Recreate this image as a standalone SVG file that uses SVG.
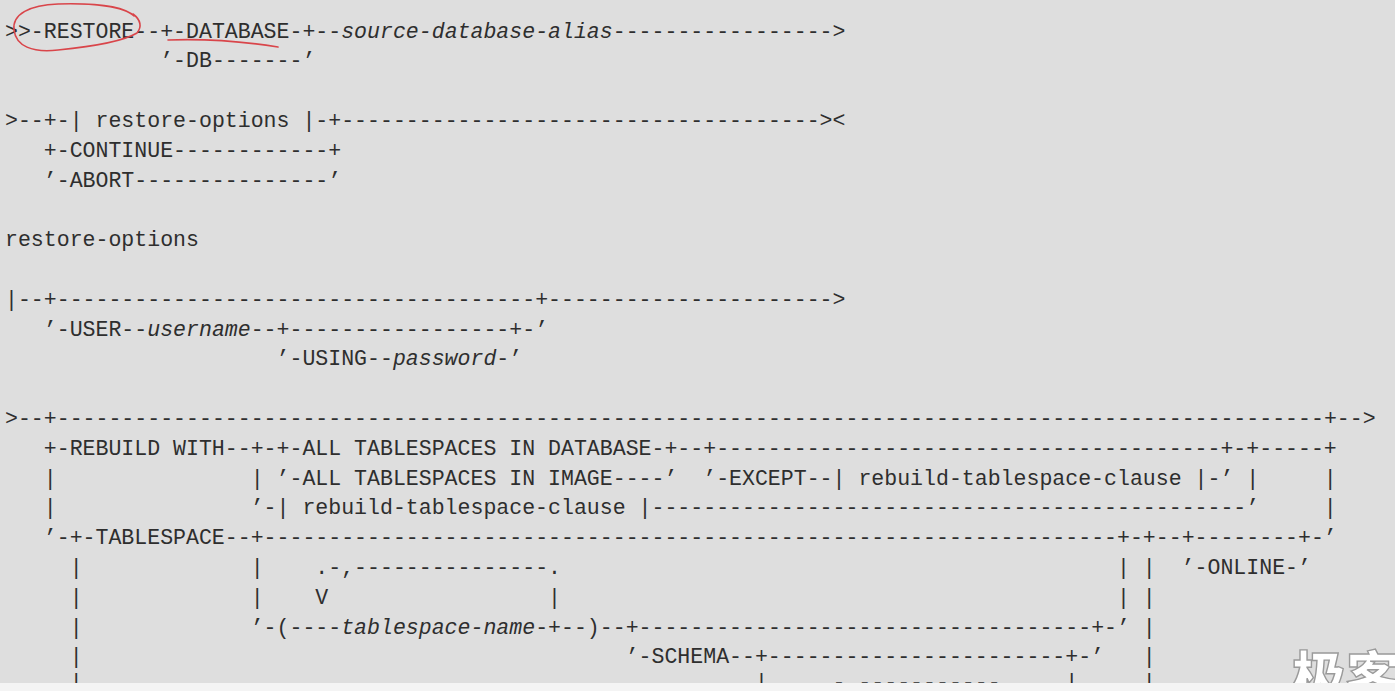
<svg xmlns="http://www.w3.org/2000/svg" width="1395" height="691" viewBox="0 0 1395 691">
  <style>
    text { font-family: "Liberation Mono", "DejaVu Sans Mono", monospace; font-size: 21.55px; fill: #2e2e2e; white-space: pre; }
    .i { font-style: italic; }
    .mark { fill: none; stroke: #d9454a; stroke-width: 1.6; stroke-linecap: round; }
    .wm { font-family: "Noto Sans CJK SC", sans-serif; font-weight: 900; font-size: 54px; fill: #ffffff; stroke: #9a9a9a; stroke-width: 1.4; }
  </style>
  <rect width="1395" height="691" fill="#dedede"/>

  <!-- RESTORE DATABASE command syntax (fixed-pitch: 12.93px per column, x = 5 + col*12.93) -->
  <g id="restore-command">
    <text x="5" y="37.5" xml:space="preserve">&gt;&gt;-RESTORE--+-DATABASE-+--<tspan class="i">source-database-alias</tspan>-----------------&gt;</text>
    <text x="160.16" y="67.3" xml:space="preserve">’-DB-------’</text>
    <text x="5" y="126.9" xml:space="preserve">&gt;--+-| restore-options |-+-------------------------------------&gt;&lt;</text>
    <text x="43.79" y="156.7" xml:space="preserve">+-CONTINUE------------+</text>
    <text x="43.79" y="186.5" xml:space="preserve">’-ABORT---------------’</text>
  </g>

  <!-- restore-options fragment -->
  <g id="restore-options">
    <text x="5" y="246.1" xml:space="preserve">restore-options</text>
    <text x="5" y="305.7" xml:space="preserve">|--+-------------------------------------+----------------------&gt;</text>
    <text x="43.79" y="335.5" xml:space="preserve">’-USER--<tspan class="i">username</tspan>--+-----------------+-’</text>
    <text x="276.53" y="365.3" xml:space="preserve">’-USING--<tspan class="i">password</tspan>-’</text>
  </g>

  <!-- REBUILD WITH / TABLESPACE branch -->
  <g id="rebuild-branch">
    <text x="5" y="424.9" xml:space="preserve">&gt;--+--------------------------------------------------------------------------------------------------+--&gt;</text>
    <text x="43.79" y="454.7" xml:space="preserve">+-REBUILD WITH--+-+-ALL TABLESPACES IN DATABASE-+--+---------------------------------------+-+-----+</text>

    <text x="43.79" y="484.5">|</text>
    <text x="250.67" y="484.5" xml:space="preserve">| ’-ALL TABLESPACES IN IMAGE----’  ’-EXCEPT--| rebuild-tablespace-clause |-’ |</text>
    <text x="1323.86" y="484.5">|</text>

    <text x="43.79" y="514.3">|</text>
    <text x="250.67" y="514.3" xml:space="preserve">’-| rebuild-tablespace-clause |----------------------------------------------’</text>
    <text x="1323.86" y="514.3">|</text>

    <text x="43.79" y="544.1" xml:space="preserve">’-+-TABLESPACE--+------------------------------------------------------------------+-+--+--------+-’</text>

    <text x="69.65" y="573.9">|</text>
    <text x="250.67" y="573.9">|</text>
    <text x="315.32" y="573.9" xml:space="preserve">.-,---------------.</text>
    <text x="1116.98" y="573.9" xml:space="preserve">| |  ’-ONLINE-’</text>

    <text x="69.65" y="603.7">|</text>
    <text x="250.67" y="603.7">|</text>
    <text x="315.32" y="603.7">V</text>
    <text x="548.06" y="603.7">|</text>
    <text x="1116.98" y="603.7" xml:space="preserve">| |</text>

    <text x="69.65" y="633.5">|</text>
    <text x="250.67" y="633.5" xml:space="preserve">’-(----<tspan class="i">tablespace-name</tspan>-+--)--+-----------------------------------+-’ |</text>

    <text x="69.65" y="663.3">|</text>
    <text x="625.64" y="663.3" xml:space="preserve">’-SCHEMA--+-----------------------+-’   |</text>

    <!-- next row continues below the lower edge -->
    <text x="69.65" y="689">|</text>
    <text x="754.94" y="689">|</text>
    <text x="819.59" y="689" xml:space="preserve">.-,-----------.</text>
    <text x="1065.26" y="689">|</text>
    <text x="1142.84" y="689">|</text>
  </g>

  <!-- hand-drawn red markings -->
  <g id="annotations">
    <path class="mark" d="M 134 16 C 124 6 92 3 58 4 C 30 5 12 14 14 30 C 16 46 32 53 58 50 C 88 47 122 42 137 33 C 142 27 141 20 133 14"/>
    <path class="mark" d="M 168 40 Q 222 38 278 47"/>
  </g>

  <!-- corner watermark -->
  <text class="wm" x="1292" y="697">极客</text>

  <!-- lower edge strip -->
  <rect x="0" y="683" width="1395" height="8" fill="#f4f4f4"/>
</svg>
